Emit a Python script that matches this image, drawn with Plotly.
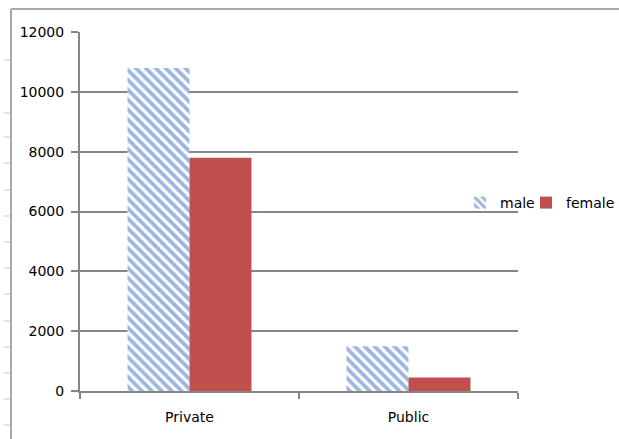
import plotly.graph_objects as go

categories = ["Private", "Public"]
male = [10800, 1500]
female = [7800, 450]
y_ticks = [0, 2000, 4000, 6000, 8000, 10000, 12000]
y_labels = ["0", "2000", "4000", "6000", "8000", "10000", "12000"]

W, H = 619, 439
L, R, T, B = 80, 101, 32, 48
pw, ph = W - L - R, H - T - B

def px(x):
    return (x - L) / pw

def py(y):
    return (H - B - y) / ph

fig = go.Figure()
fig.add_trace(go.Bar(
    name="male", x=categories, y=male, legend="legend", showlegend=True,
    marker=dict(color="white", line=dict(width=0),
                pattern=dict(shape="\\", fgcolor="#3A6DBF", bgcolor="white",
                             size=7, solidity=0.55)),
))
fig.add_trace(go.Bar(
    name="female", x=categories, y=female, legend="legend2", showlegend=True,
    marker=dict(color="#C0504D", line=dict(width=0)),
))

shapes = []
shapes.append(dict(type="line", xref="paper", yref="paper",
                   x0=px(11), x1=px(11), y0=py(9), y1=py(440),
                   line=dict(color="#A8A8A8", width=2)))
shapes.append(dict(type="line", xref="paper", yref="paper",
                   x0=px(11), x1=px(620), y0=py(9), y1=py(9),
                   line=dict(color="#A8A8A8", width=2)))
for ty in [60, 113, 137, 163, 190, 216, 242, 268, 294, 321, 347, 373, 399, 425]:
    shapes.append(dict(type="line", xref="paper", yref="paper",
                       x0=px(4), x1=px(10), y0=py(ty), y1=py(ty),
                       line=dict(color="#C8C8C8", width=1)))

leg_common = dict(orientation="h", y=py(203), xanchor="left", yanchor="middle",
                  bgcolor="rgba(0,0,0,0)", font=dict(size=14), itemwidth=30,
                  visible=True)

fig.update_layout(
    width=W, height=H,
    margin=dict(l=L, r=R, t=T, b=B, pad=0, autoexpand=False),
    paper_bgcolor="white", plot_bgcolor="white",
    barmode="group", bargap=0.434, bargroupgap=0,
    showlegend=True,
    font=dict(family="DejaVu Sans", size=14, color="#000000"),
    shapes=shapes,
    legend=dict(x=px(460), **leg_common),
    legend2=dict(x=px(526), **leg_common),
    xaxis=dict(showline=True, linecolor="#868686", linewidth=2,
               ticks="outside", ticklen=6, tickcolor="#868686", tickwidth=2,
               tickson="boundaries", showgrid=False, zeroline=False,
               ticklabelstandoff=12, tickfont=dict(size=14)),
    yaxis=dict(range=[0, 12000], tickvals=y_ticks, ticktext=y_labels, showline=True,
               linecolor="#868686", linewidth=2, showgrid=True,
               gridcolor="#868686", gridwidth=2, ticks="outside", ticklen=7,
               tickcolor="#868686", tickwidth=2, zeroline=False,
               ticklabelstandoff=4, tickfont=dict(size=14)),
)

fig.write_html("out.html")
